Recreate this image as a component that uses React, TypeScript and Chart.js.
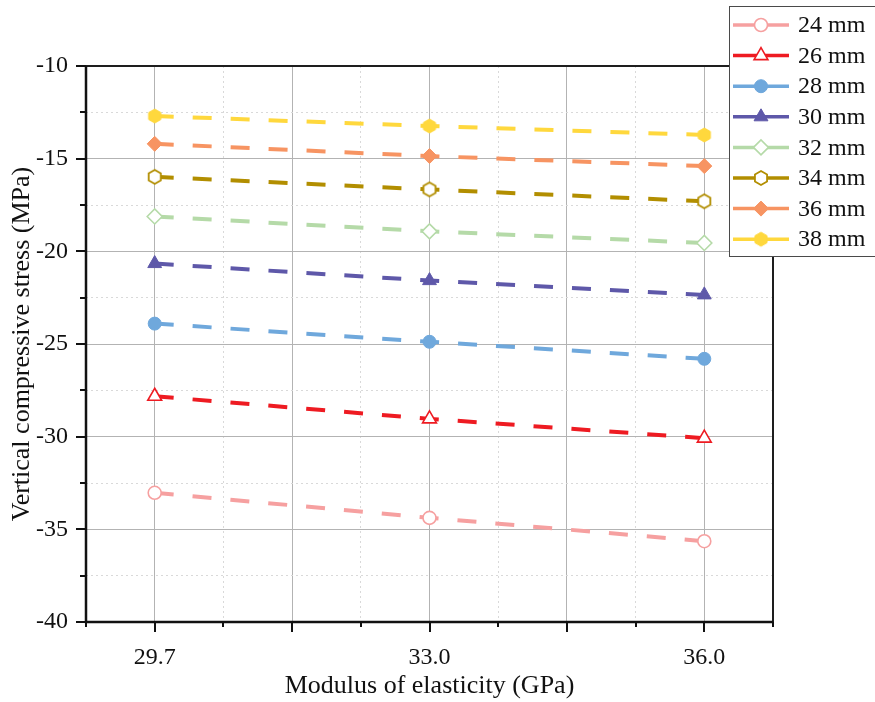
import React, { useEffect, useRef } from 'react';
import { Chart, registerables } from 'chart.js';
import { drawPoint } from 'chart.js/helpers';

Chart.register(...registerables);

// ---- data ----
const xLabels = ['29.7', '33.0', '36.0'];
const seriesNames = ['24 mm', '26 mm', '28 mm', '30 mm', '32 mm', '34 mm', '36 mm', '38 mm'];
const s24 = [-33.03, -34.38, -35.64];
const s26 = [-27.82, -29.04, -30.08];
const s28 = [-23.9, -24.88, -25.8];
const s30 = [-20.66, -21.58, -22.35];
const s32 = [-18.12, -18.92, -19.55];
const s34 = [-15.98, -16.66, -17.3];
const s36 = [-14.2, -14.86, -15.4];
const s38 = [-12.7, -13.24, -13.72];
const seriesValues = [s24, s26, s28, s30, s32, s34, s36, s38];
const yMin = -40;
const yMax = -10;

// ---- styles ----
const colors = ['#F6A0A0', '#EE1B22', '#6FA8DC', '#5E58A9', '#B5DAA8', '#B28E00', '#F79462', '#FFD83D'];
const markers = ['circle', 'triangle', 'circle', 'triangle', 'rectRot', 'hex', 'rectRot', 'hex'];
const hollow = [true, true, false, false, true, true, false, false];
const radii = [6.5, 8, 6.5, 8, 7.5, 7, 7.5, 7];

function makeHex(color: string, isHollow: boolean, r: number) {
  const size = Math.ceil(2 * r + 4);
  const c = document.createElement('canvas');
  c.width = size;
  c.height = size;
  const ctx = c.getContext('2d')!;
  const cx = size / 2;
  const cy = size / 2;
  ctx.beginPath();
  for (let i = 0; i < 6; i++) {
    const a = -Math.PI / 2 + (i * Math.PI) / 3;
    const px = cx + r * Math.cos(a);
    const py = cy + r * Math.sin(a);
    if (i === 0) ctx.moveTo(px, py);
    else ctx.lineTo(px, py);
  }
  ctx.closePath();
  ctx.fillStyle = isHollow ? '#ffffff' : color;
  ctx.fill();
  ctx.lineWidth = isHollow ? 1.8 : 1;
  ctx.strokeStyle = color;
  ctx.stroke();
  return c;
}

const FONT = '"Liberation Serif", "Times New Roman", serif';

const isInt = (v: number) => Math.abs(v - Math.round(v)) < 1e-9;
const isHalf = (v: number) => Math.abs(v * 2 - Math.round(v * 2)) < 1e-9;

export default function App() {
  const ref = useRef<HTMLCanvasElement>(null);

  useEffect(() => {
    document.body.style.margin = '0';
    const canvas = ref.current!;

    const pointStyles = markers.map((m, i) => (m === 'hex' ? makeHex(colors[i], hollow[i], radii[i]) : m));

    const datasets = seriesNames.map((name, i) => ({
      label: name,
      data: seriesValues[i].map((v, k) => ({ x: k, y: v })),
      borderColor: colors[i],
      backgroundColor: hollow[i] ? '#ffffff' : colors[i],
      pointBackgroundColor: hollow[i] ? '#ffffff' : colors[i],
      pointBorderColor: colors[i],
      pointBorderWidth: hollow[i] ? 1.6 : 1,
      pointStyle: pointStyles[i] as any,
      pointRadius: radii[i],
      pointHoverRadius: radii[i],
      borderWidth: 4,
      borderDash: [19, 19],
      borderCapStyle: 'butt' as const,
      tension: 0,
      fill: false,
    }));

    const decoPlugin = {
      id: 'deco',
      afterDatasetsDraw(chart: any) {
        const { ctx, chartArea } = chart;
        const { left, right, top, bottom } = chartArea;
        const xs = chart.scales.x;
        const ys = chart.scales.y;
        ctx.save();
        // frame
        ctx.strokeStyle = '#1e1e1e';
        ctx.lineWidth = 2;
        ctx.strokeRect(left, top, right - left, bottom - top);
        ctx.beginPath();
        ctx.lineWidth = 2.5;
        ctx.strokeStyle = '#111111';
        ctx.moveTo(left, top);
        ctx.lineTo(left, bottom);
        ctx.lineTo(right, bottom);
        ctx.stroke();
        // ticks
        ctx.lineWidth = 2;
        ctx.beginPath();
        xs.ticks.forEach((t: any) => {
          const v = t.value;
          const px = Math.round(xs.getPixelForValue(v));
          const len = isHalf(v) ? 10 : 5;
          ctx.moveTo(px, bottom);
          ctx.lineTo(px, bottom + len);
        });
        ys.ticks.forEach((t: any) => {
          const v = t.value;
          const py = Math.round(ys.getPixelForValue(v));
          const len = isInt(v / 5) ? 10 : 6;
          ctx.moveTo(left, py);
          ctx.lineTo(left - len, py);
        });
        ctx.stroke();
        ctx.restore();
      },
      afterDraw(chart: any) {
        const { ctx } = chart;
        ctx.save();
        // legend box
        const bx = 729.5;
        const by = 6.5;
        const bw = 150;
        const bh = 250;
        ctx.fillStyle = '#ffffff';
        ctx.fillRect(bx, by, bw, bh);
        ctx.strokeStyle = '#4a4a4a';
        ctx.lineWidth = 1;
        ctx.strokeRect(bx, by, bw, bh);
        seriesNames.forEach((name, i) => {
          const y = 25 + i * 30.6;
          ctx.strokeStyle = colors[i];
          ctx.lineWidth = 3.5;
          ctx.setLineDash([]);
          ctx.beginPath();
          ctx.moveTo(733, y);
          ctx.lineTo(789, y);
          ctx.stroke();
          ctx.fillStyle = hollow[i] ? '#ffffff' : colors[i];
          ctx.strokeStyle = colors[i];
          ctx.lineWidth = hollow[i] ? 1.6 : 1;
          drawPoint(ctx, { pointStyle: pointStyles[i] as any, radius: radii[i], rotation: 0, borderWidth: ctx.lineWidth }, 761, y);
          ctx.fillStyle = '#111111';
          ctx.font = `24px ${FONT}`;
          ctx.textAlign = 'left';
          ctx.textBaseline = 'middle';
          ctx.fillText(name, 798, y + 1);
        });
        ctx.restore();
      },
    };

    const chart = new Chart(canvas, {
      type: 'line',
      data: { datasets },
      options: {
        responsive: false,
        animation: false,
        layout: { padding: { top: 66, right: 102, left: 0, bottom: 0 } },
        plugins: {
          legend: { display: false },
          tooltip: { enabled: false },
        },
        scales: {
          x: {
            type: 'linear',
            min: -0.25,
            max: 2.25,
            afterFit: (s: any) => {
              s.height = 80;
            },
            ticks: {
              stepSize: 0.25,
              autoSkip: false,
              maxRotation: 0,
              padding: 11,
              color: '#111111',
              font: { family: FONT, size: 24 },
              callback: (v: any) => (isInt(v) && v >= 0 && v <= 2 ? xLabels[Math.round(v)] : ''),
            },
            grid: {
              drawTicks: true,
              tickLength: 10,
              tickColor: 'rgba(0,0,0,0)',
              lineWidth: 1,
              color: (c: any) => {
                const v = c.tick ? c.tick.value : 0;
                return isHalf(v) ? '#b3b3b3' : '#d9d9d9';
              },
            },
            border: {
              display: false,
              dash: (c: any) => {
                const v = c.tick ? c.tick.value : 0;
                return isHalf(v) ? [] : [2, 3];
              },
            },
            title: {
              display: true,
              text: 'Modulus of elasticity (GPa)',
              color: '#111111',
              font: { family: FONT, size: 26 },
              padding: { top: 0, bottom: 0 },
            },
          },
          y: {
            type: 'linear',
            min: yMin,
            max: yMax,
            afterFit: (s: any) => {
              s.width = 86;
            },
            ticks: {
              stepSize: 2.5,
              autoSkip: false,
              padding: 8,
              color: '#111111',
              font: { family: FONT, size: 24 },
              callback: (v: any) => (isInt(v / 5) ? String(v) : ''),
            },
            grid: {
              drawTicks: true,
              tickLength: 10,
              tickColor: 'rgba(0,0,0,0)',
              lineWidth: 1,
              color: (c: any) => {
                const v = c.tick ? c.tick.value : 0;
                return isInt(v / 5) ? '#b3b3b3' : '#d9d9d9';
              },
            },
            border: {
              display: false,
              dash: (c: any) => {
                const v = c.tick ? c.tick.value : 0;
                return isInt(v / 5) ? [] : [2, 3];
              },
            },
            title: {
              display: true,
              text: 'Vertical compressive stress (MPa)',
              color: '#111111',
              font: { family: FONT, size: 26 },
              padding: { top: 7, bottom: 0 },
            },
          },
        },
      },
      plugins: [decoPlugin],
    });

    return () => chart.destroy();
  }, []);

  return (
    <div style={{ width: 875, height: 702, background: '#ffffff' }}>
      <canvas ref={ref} width={875} height={702} style={{ display: 'block', width: 875, height: 702 }} />
    </div>
  );
}
